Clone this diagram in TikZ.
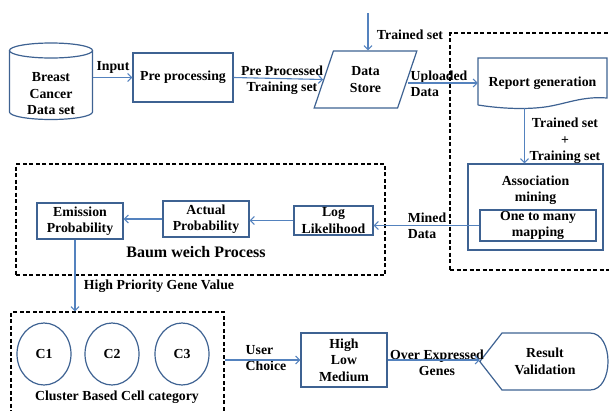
\documentclass[tikz,border=0pt]{standalone}
\usepackage{fontspec}
\setmainfont{Liberation Serif}
\usetikzlibrary{shapes.geometric,arrows.meta}

\begin{document}
\begin{tikzpicture}[x=1pt, y=-1pt,
  every node/.style={font=\bfseries\fontsize{13.8}{16.5}\selectfont, align=center, inner sep=0pt},
  box/.style={draw=boxblue, line width=1.2pt},
  arr/.style={draw=arrblue, line width=1.1pt, -{Straight Barb[length=4pt,width=8pt]}},
  dashbox/.style={draw=black, line width=1.2pt, dash pattern=on 4pt off 2.5pt}]

  \definecolor{boxblue}{RGB}{62,98,146}
  \definecolor{arrblue}{RGB}{84,130,190}

  \useasboundingbox (0,0) rectangle (609,410);

  % dashed groups
  \node[dashbox, minimum width=165, minimum height=237] (mining) at (532.5,151.5) {};
  \node[dashbox, minimum width=369, minimum height=111] (baum) at (200.5,219.5) {};
  \node[dashbox, minimum width=213, minimum height=113] (clus) at (117.5,368.5) {};

  % top row
  \node[minimum width=83, minimum height=52] (db) at (51,94) {Breast\\Cancer\\Data set};
  \draw[box] (51,50.5) ellipse[x radius=41.5, y radius=7.5];
  \draw[box] (9.5,50.5) -- (9.5,112) arc[start angle=180, end angle=0, x radius=41.5, y radius=7.5] -- (92.5,50.5);
  \node[box, minimum width=100, minimum height=49] (pre) at (183,77.5) {Pre processing};
  \node[box, trapezium, trapezium left angle=70, trapezium right angle=110, trapezium stretches=true,
        minimum width=103, minimum height=57] (store) at (365.5,79.5) {Data\\Store};
  \node[minimum width=129, minimum height=50] (rpt) at (542.5,83) {Report generation};
  \draw[box] (478,105) -- (478,58) -- (607,58) -- (607,98)
    .. controls (582,96) and (566,104) .. (545,107)
    .. controls (522,110) and (497,108) .. (478,105);

  % association mining
  \node[box, minimum width=135, minimum height=86] (assoc) at (535.5,207) {};
  \node (assoctxt) at (535.5,190) {Association\\mining};
  \node[box, minimum width=116, minimum height=31] (map) at (538,225.5) {One to many\\mapping};

  % baum welch chain
  \node[box, minimum width=79, minimum height=29] (loglik) at (333.5,220.5) {Log\\Likelihood};
  \node[box, minimum width=86, minimum height=36] (actual) at (206,219) {Actual\\Probability};
  \node[box, minimum width=86, minimum height=36] (emis) at (80,221) {Emission\\Probability};
  \node[font=\bfseries\fontsize{16}{18}\selectfont] (baumlbl) at (196,252) {Baum weich Process};

  % clusters
  \foreach \c/\x in {1/44, 2/112, 3/182}
    \node[box, ellipse, minimum width=54, minimum height=62] (c\c) at (\x,354) {C\c};
  \node (cluslbl) at (117,397) {Cluster Based Cell category};

  % bottom row
  \node[box, minimum width=86, minimum height=54] (hlm) at (344,360) {High\\Low\\Medium};
  \node[minimum width=130, minimum height=57] (res) at (545,361.5) {Result\\Validation};
  \draw[box] (res.west) -- (502,333) -- (590,333)
    .. controls (614,333) and (614,390) .. (590,390) -- (502,390) -- cycle;

  % labels
  \node (inlbl) at (113,67) {Input};
  \node (pplbl) at (282,80) {Pre Processed\\Training set};
  \node (tslbl) at (410,35) {Trained set};
  \node[align=left] (uplbl) at (439,84) {Uploaded\\Data};
  \node (ttslbl) at (565,141) {Trained set\\+\\Training set};
  \node[align=left] (minedlbl) at (427,226) {Mined\\Data};
  \node (hplbl) at (159,286) {High Priority Gene Value};
  \node[align=left] (uclbl) at (266,358) {User\\Choice};
  \node (oelbl) at (437,363) {Over Expressed\\Genes};

  % connectors
  \coordinate (tstop) at (368,13);
  \draw[arr] (db.east |- pre) -- (pre.west);
  \draw[arr] (pre.east) -- (store.west);
  \draw[arr] (tstop) -- (tstop |- store.north);
  \draw[arr] (store.east |- rpt) -- (rpt.west);
  \draw[arr] ([xshift=-18pt]rpt.south) -- ([xshift=-18pt]rpt.south |- assoc.north);
  \draw[arr] (map.west) -- (map.west -| loglik.east);
  \draw[arr] (loglik.west) -- (loglik.west -| actual.east);
  \draw[arr] (actual.west) -- (actual.west -| emis.east);
  \draw[arr] ([xshift=-5pt]emis.south) -- ([xshift=-5pt]emis.south |- clus.north);
  \draw[arr] (clus.east |- hlm) -- (hlm.west);
  \draw[arr] (hlm.east) -- (hlm.east -| res.west);

\end{tikzpicture}
\end{document}
